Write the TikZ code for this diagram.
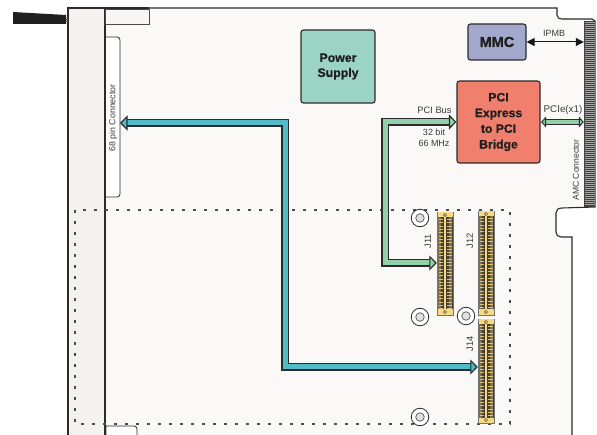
\documentclass[tikz,border=0pt]{standalone}
\usepackage{fontspec}
\setmainfont{Liberation Sans}
\newfontfamily\heavy{Liberation Sans}[UprightFont=* Bold,FakeBold=0.7]
\usetikzlibrary{arrows.meta,calc}
\definecolor{boardc}{HTML}{FAF9F7}
\definecolor{stripc}{HTML}{F5F1EE}
\definecolor{linec}{HTML}{2B2B2D}
\definecolor{psuc}{HTML}{9BD3C4}
\definecolor{mmcc}{HTML}{A3A9CC}
\definecolor{brc}{HTML}{F07F6E}
\definecolor{tealc}{HTML}{4FBCC8}
\definecolor{greenc}{HTML}{93CFA8}
\definecolor{goldc}{HTML}{F6D984}
\definecolor{bodyc}{HTML}{453D2F}
\definecolor{olivec}{HTML}{7D7152}
\definecolor{textc}{HTML}{3A3A3C}
\tikzset{
  x=1pt,y=-1pt,
  block/.style={draw=linec,line width=1.1pt,rounded corners=2.5pt,inner sep=0pt,align=center,text=black!88},
  lab/.style={inner sep=0pt,text=textc,font=\fontsize{9.3}{11}\selectfont,align=center},
  rotlab/.style={lab,rotate=90},
  busarrow/.style={draw=linec,line width=1.15pt,double=#1,double distance=5pt,line join=miter},
  tipboth/.style={{Triangle[length=7.5pt,width=15pt,fill=#1,line width=1.1pt]}-{Triangle[length=7.5pt,width=15pt,fill=#1,line width=1.1pt]}},
  tipsmall/.style={{Triangle[length=5pt,width=11pt,fill=#1,line width=1pt]}-{Triangle[length=5pt,width=11pt,fill=#1,line width=1pt]}},
  hole/.style={circle,draw=linec,line width=.8pt,fill=white,minimum size=17.5pt,inner sep=0pt},
  holein/.style={circle,draw=linec!80,line width=.7pt,fill=black!12,minimum size=8.5pt,inner sep=0pt},
  connbody/.style={fill=bodyc,draw=black!55,line width=.5pt,minimum width=16pt,inner sep=0pt},
}
\newcommand{\mezz}[3]{%
  \foreach \t/\b in {#3}{
    \node[connbody,minimum height={\b-\t}] (#1) at (#2,{(\t+\b)/2}) {};
    \fill[olivec] (#2-7,\t) rectangle (#2-4,\b);
    \fill[olivec] (#2+4,\t) rectangle (#2+7,\b);
    \foreach \yy in {0,1,...,28}{
      \fill[goldc!90!black] (#2-6.5,{\t+7.2+\yy*3.3}) rectangle (#2-2,{\t+8.1+\yy*3.3});
      \fill[goldc!90!black] (#2+2,{\t+7.2+\yy*3.3}) rectangle (#2+6.5,{\t+8.1+\yy*3.3});
    }
    \fill[goldc] (#2-1,\t) rectangle (#2+1,\b);
    \fill[goldc] (#2-7.5,\t+.4) rectangle (#2+7.5,\t+5.5);
    \fill[goldc] (#2-7.5,\b-.4) rectangle (#2+7.5,\b-5.5);
    \draw[bodyc,line width=.5pt] (#2,\t+3) circle (1.6pt);
    \draw[bodyc,line width=.5pt] (#2,\b-3) circle (1.6pt);
  }
}
\begin{document}
\begin{tikzpicture}
\useasboundingbox (0,0) rectangle (597,435);
% board
\draw[line width=1.1pt,draw=linec,fill=boardc]
  (68,435) -- (68,8) -- (557,8) -- (557,15)
  .. controls (557,18) and (559,19) .. (562,19) -- (592,19)
  -- (595,21) -- (595,207) -- (562,208)
  .. controls (558,208) and (556,210) .. (556,213) -- (556,232)
  .. controls (556,235) and (558,237) .. (561,237) -- (572,237) -- (572,435);
% left strip
\draw[line width=1.15pt,draw=linec,fill=stripc] (68,435) -- (68,8) -- (105,8) -- (105,435);
% handle
\fill[black!88] (13,12) -- (66,15) -- (66,24) -- (13,24) -- cycle;
\draw[line width=.8pt,black!70] (66,19) -- (68,19) (66,21.5) -- (68,21.5);
% small boxes
\node[draw=black!70,line width=.8pt,fill=stripc!60!white,inner sep=0pt,minimum width=43.5pt,minimum height=15pt] (topbox) at (127.5,16.5) {};
\draw[linec,line width=1.3pt] (105,8) -- (149,8);
\draw[line width=.8pt,draw=linec,fill=white] (106,37) [rounded corners=3pt] -- (120,37) -- (120,197) -- (106,197);
\node[rotlab,font=\fontsize{8.8}{10}\selectfont] (pinlab) at (113,118) {68 pin Connector};
\coordinate (pinconn) at (120,123);
\draw[line width=.8pt,draw=linec,fill=white] (106,435) -- (106,426) [rounded corners=3pt] -- (137,426) -- (137,435);
% dotted frame
\draw[line width=1.2pt,black!70,dash pattern=on 2.8pt off 8.2pt] (75,210) rectangle (510,424);
% blocks
\node[block,fill=psuc,minimum width=74pt,minimum height=73pt,font=\heavy\fontsize{12.3}{15}\selectfont] (psu) at (338,66.5) {Power\\Supply};
\node[block,fill=mmcc,minimum width=58pt,minimum height=36pt,font=\heavy\fontsize{14.5}{16}\selectfont] (mmc) at (497,42) {MMC};
\node[block,fill=brc,minimum width=83pt,minimum height=82pt,font=\heavy\fontsize{12.2}{15.7}\selectfont] (bridge) at (498.5,122) {PCI\\Express\\to PCI\\Bridge};
% AMC connector
\node[fill=black!75,inner sep=0pt,minimum width=11pt,minimum height=186pt] (amc) at (589.5,114) {};
\foreach \yy in {0,1,...,91}{\draw[black!35,line width=.7pt] (584.5,{22+\yy*2}) -- (594.5,{22+\yy*2});}
\node[rotlab,font=\fontsize{8.6}{10}\selectfont] (amclab) at (576,170) {AMC Connector};
% mezzanine connectors
\mezz{jeleven}{445}{212/315}
\mezz{jtwelve}{486}{211/315}
\mezz{jfourteen}{486}{319/423}
\node[rotlab] (l11) at (428,241) {J11};
\node[rotlab] (l12) at (470,241) {J12};
\node[rotlab] (l14) at (470,344) {J14};
% holes
\foreach \n/\x/\y in {a/420/218,b/420/317,c/466/316,d/420/417}{
  \node[hole] (h\n) at (\x,\y) {};
  \node[holein] (hi\n) at (\x,\y) {};
}
% connectors
\coordinate (tealturna) at (285,123);
\coordinate (tealturnb) at (285,367);
\coordinate (greenturna) at (385,122);
\coordinate (greenturnb) at (385,263);
\draw[busarrow=tealc,tipboth=tealc] (pinconn) -- (tealturna) -- (tealturnb) -- (jfourteen.west |- tealturnb);
\draw[busarrow=greenc,tipboth=greenc] (bridge.west) -- (greenturna) -- (greenturnb) -- (jeleven.west |- greenturnb);
\draw[busarrow=greenc,line width=.9pt,double distance=3.6pt,tipsmall=greenc] ($(bridge.east)+(.5,0)$) -- (amc.west |- bridge.east);
\draw[black!90,line width=1pt,{Triangle[length=8pt,width=8pt]}-{Triangle[length=8pt,width=8pt]}] (mmc.east) -- (amc.west |- mmc.east);
% labels
\node[lab,font=\fontsize{9}{11}\selectfont] (lipmb) at (554,33) {IPMB};
\node[lab,font=\fontsize{9.8}{11}\selectfont] (lpcie) at (563,110) {PCIe(x1)};
\node[lab] (lbus) at (434.5,110) {PCI Bus};
\node[lab,font=\fontsize{9}{11}\selectfont] (lbit) at (434,137.5) {32 bit\\66 MHz};
\end{tikzpicture}
\end{document}
